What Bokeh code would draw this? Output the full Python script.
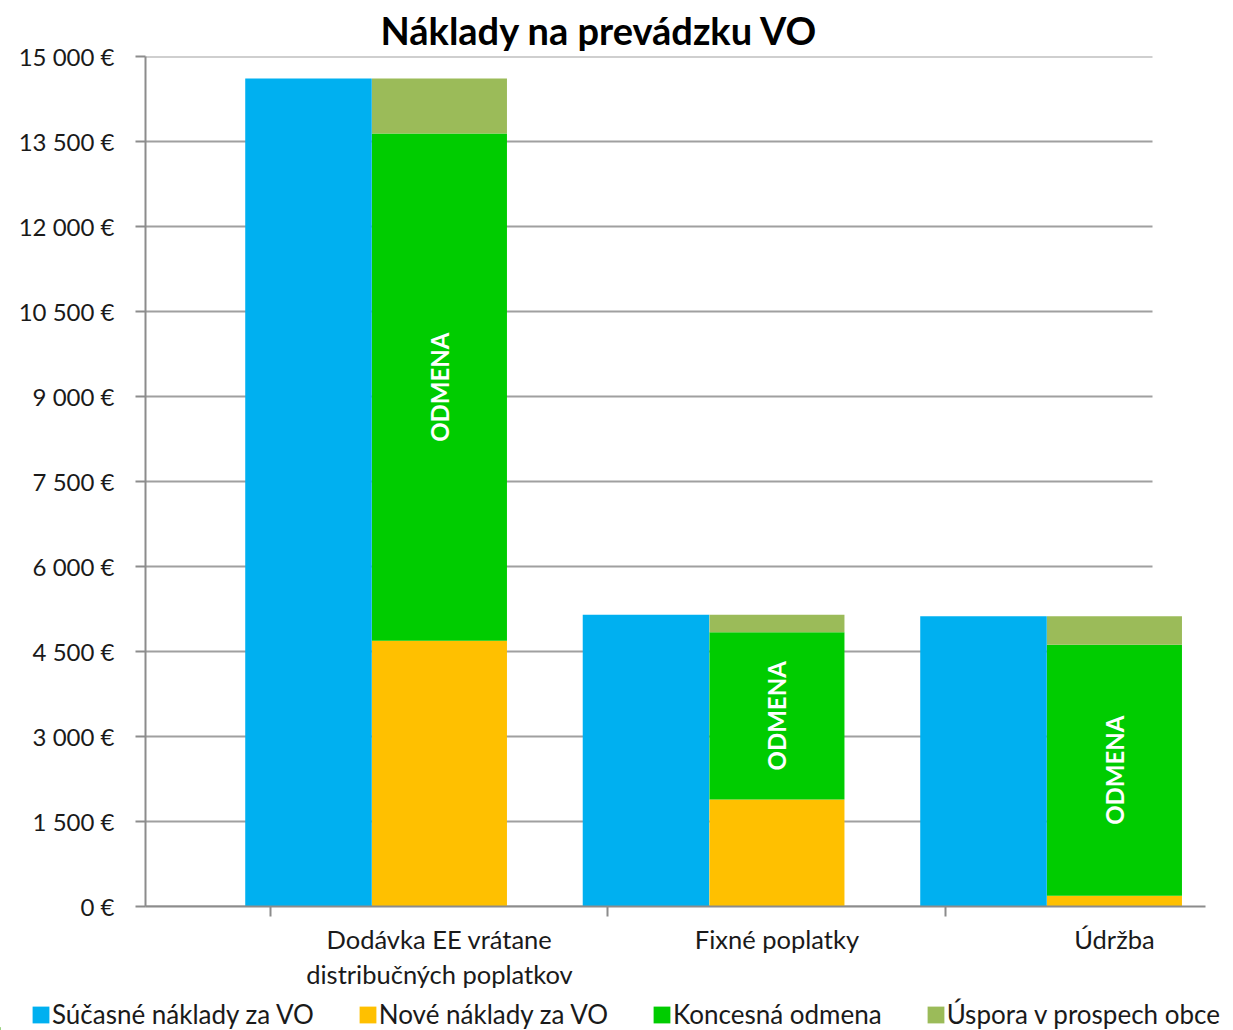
from math import pi
from bokeh.plotting import figure
from bokeh.layouts import column
from bokeh.models import (Range1d, FixedTicker, Legend, LegendItem)
from bokeh.core.properties import value
from bokeh.embed import file_html
from bokeh.resources import INLINE

# ---- data ----
categories = ["Dodávka EE vrátane\ndistribučných poplatkov", "Fixné poplatky", "Údržba"]
current_costs = [14610, 5150, 5120]      # Súčasné náklady za VO
new_costs = [4690, 1890, 190]             # Nové náklady za VO
concession_fee = [8950, 2950, 4430]       # Koncesná odmena
savings = [970, 310, 500]                 # Úspora v prospech obce
y_ticks = [0, 1500, 3000, 4500, 6000, 7500, 9000, 10500, 12000, 13500, 15000]
y_tick_labels = ["0 €", "1 500 €", "3 000 €", "4 500 €", "6 000 €", "7 500 €",
                 "9 000 €", "10 500 €", "12 000 €", "13 500 €", "15 000 €"]
series_names = ["Súčasné náklady za VO", "Nové náklady za VO", "Koncesná odmena", "Úspora v prospech obce"]
title_text = "Náklady na prevádzku VO"
bar_label = "ODMENA"

# ---- style / layout ----
FONT = "Lato"
C_BLUE, C_ORANGE, C_GREEN, C_LGREEN = "#00B0F0", "#FFC000", "#00CC00", "#9BBB59"
colors = [C_BLUE, C_ORANGE, C_GREEN, C_LGREEN]
AX_COL = "#8c8c8c"
GRID_COL = "#a0a0a0"
W = 1233
H_MAIN, H_LEG = 998, 32
F_LEFT, F_RIGHT, F_TOP, F_BOTTOM = 145, 1205, 55, 906
UNIT = 337.5  # pixels per category step

n = len(categories)
idx = list(range(n))
stack_w = 0.40
blue_w = 0.375
stack_x = [round(i + 0.871, 4) for i in idx]
blue_x = [round(i + 0.6705 - blue_w / 2, 4) for i in idx]
tick_x = [round(i + 0.37, 4) for i in idx]

bottom2 = new_costs
bottom3 = [a + b for a, b in zip(new_costs, concession_fee)]
top3 = [a + b for a, b in zip(bottom3, savings)]
mid_green = [a + b / 2 for a, b in zip(new_costs, concession_fee)]

p = figure(width=W, height=H_MAIN, output_backend="svg", toolbar_location=None,
           x_range=Range1d(0, (F_RIGHT - F_LEFT) / UNIT), y_range=Range1d(0, 15000),
           min_border_left=F_LEFT, min_border_right=W - F_RIGHT,
           min_border_top=F_TOP, min_border_bottom=H_MAIN - F_BOTTOM)
p.frame_align = False
p.outline_line_color = None
p.xgrid.visible = False
p.ygrid.visible = False

# gridlines (end before the right edge, as in the reference)
grid_end = [(1152 - F_LEFT) / UNIT] * len(y_ticks)
p.segment(x0=[0] * len(y_ticks), x1=grid_end, y0=y_ticks, y1=y_ticks,
          line_color=GRID_COL, line_width=2)

p.vbar(x=blue_x, width=blue_w, bottom=0, top=current_costs, fill_color=C_BLUE, line_color=None)
p.vbar(x=stack_x, width=stack_w, bottom=0, top=new_costs, fill_color=C_ORANGE, line_color=None)
p.vbar(x=stack_x, width=stack_w, bottom=bottom2, top=bottom3, fill_color=C_GREEN, line_color=None)
p.vbar(x=stack_x, width=stack_w, bottom=bottom3, top=top3, fill_color=C_LGREEN, line_color=None)

p.text(x=stack_x, y=mid_green, text=[bar_label] * n, angle=pi / 2,
       text_align="center", text_baseline="middle", text_color="white",
       text_font=value(FONT), text_font_style="bold", text_font_size="24px")

# y axis
ya = p.yaxis[0]
ya.ticker = FixedTicker(ticks=y_ticks, minor_ticks=[])
ya.major_label_overrides = {t: l for t, l in zip(y_ticks, y_tick_labels)}
ya.major_tick_out = 10
ya.major_tick_in = 0
ya.major_tick_line_color = AX_COL
ya.major_tick_line_width = 2
ya.axis_line_color = AX_COL
ya.axis_line_width = 2
ya.major_label_text_font = FONT
ya.major_label_text_font_size = "24px"
ya.major_label_text_color = "#1a1a1a"
ya.major_label_standoff = 21

# x axis
xa = p.xaxis[0]
xa.ticker = FixedTicker(ticks=stack_x, minor_ticks=tick_x)
xa.major_label_overrides = {x: c for x, c in zip(stack_x, categories)}
xa.major_tick_line_color = None
xa.major_tick_out = 0
xa.major_tick_in = 0
xa.minor_tick_out = 10
xa.minor_tick_in = 0
xa.minor_tick_line_color = AX_COL
xa.minor_tick_line_width = 2
xa.axis_line_color = AX_COL
xa.axis_line_width = 2
xa.major_label_text_font = FONT
xa.major_label_text_font_size = "25.5px"
xa.major_label_text_color = "#1a1a1a"
xa.major_label_standoff = 7
xa.major_label_text_line_height = 1.17

# title
p.title.text = title_text
p.title.text_font = FONT
p.title.text_font_size = "38px"
p.title.text_font_style = "bold"
p.title.text_color = "black"
p.title.align = "left"
p.title.offset = 235
p.title.standoff = 8

# legend in its own strip below the chart
pl = figure(width=W, height=H_LEG, output_backend="svg", toolbar_location=None,
            x_range=Range1d(0, 1), y_range=Range1d(0, 1),
            min_border=0, min_border_left=0, min_border_right=0,
            min_border_top=0, min_border_bottom=0)
pl.frame_align = False
pl.axis.visible = False
pl.grid.visible = False
pl.outline_line_color = None
# off-range placeholder renderers that only provide the legend swatches
leg_renderers = [pl.vbar(x=[-5], width=0.1, bottom=[0], top=[0.1], fill_color=c, line_color=None)
                 for c in colors]
legend = Legend(items=[LegendItem(label=s, renderers=[r]) for s, r in zip(series_names, leg_renderers)],
                orientation="horizontal", location=(30, 0),
                padding=0, margin=0, spacing=43, label_standoff=1,
                glyph_width=21, glyph_height=21,
                label_text_font=FONT, label_text_font_size="26px", label_text_color="#1a1a1a",
                border_line_color=None, background_fill_alpha=0)
pl.add_layout(legend, "center")

layout = column(p, pl, spacing=0)
open("out.html", "w").write(file_html(layout, INLINE))
